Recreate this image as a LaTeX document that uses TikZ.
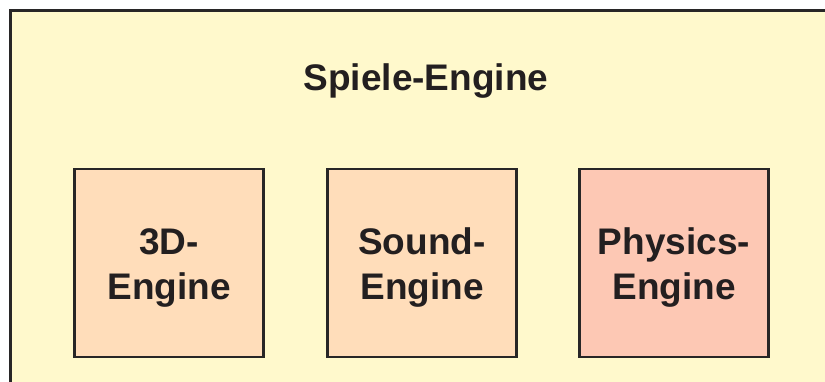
\documentclass[tikz,border=0pt]{standalone}
\usepackage{fontspec}
\setmainfont{Liberation Sans}
\definecolor{framefill}{RGB}{255,249,204}
\definecolor{peach}{RGB}{255,221,186}
\definecolor{salmon}{RGB}{253,200,180}
\definecolor{edge}{RGB}{40,38,38}
\definecolor{ink}{RGB}{35,31,32}
\tikzset{
  x=1pt, y=-1pt,
  modbox/.style={draw=edge, line width=2.8pt, minimum width=189pt, minimum height=188pt,
    inner sep=0pt},
  modtext/.style={align=center, text=ink, inner sep=0pt,
    font=\fontsize{37}{45}\selectfont\bfseries},
  title/.style={text=ink, font=\fontsize{37}{45}\selectfont\bfseries}
}
\begin{document}
\begin{tikzpicture}
\useasboundingbox (0,0) rectangle (825,381);
\clip (0,0) rectangle (825,381);
% outer frame, running past the right and bottom edges
\draw[draw=edge, fill=framefill, line width=3pt] (10.5,10.5) rectangle (840,400);
\node[title] (engine) at (426,81) {Spiele-Engine};
% the three modules
\node[modbox, fill=peach] (gfx) at (169,263) {};
\node[modbox, fill=peach] (snd) at (422,263) {};
\node[modbox, fill=salmon] (phys) at (674,263) {};
\node[modtext, yshift=-5pt] (gfxlbl) at (gfx.center) {3D-\\Engine};
\node[modtext, yshift=-5pt] (sndlbl) at (snd.center) {Sound-\\Engine};
\node[modtext, yshift=-5pt] (physlbl) at (phys.center) {Physics-\\Engine};
\end{tikzpicture}
\end{document}
